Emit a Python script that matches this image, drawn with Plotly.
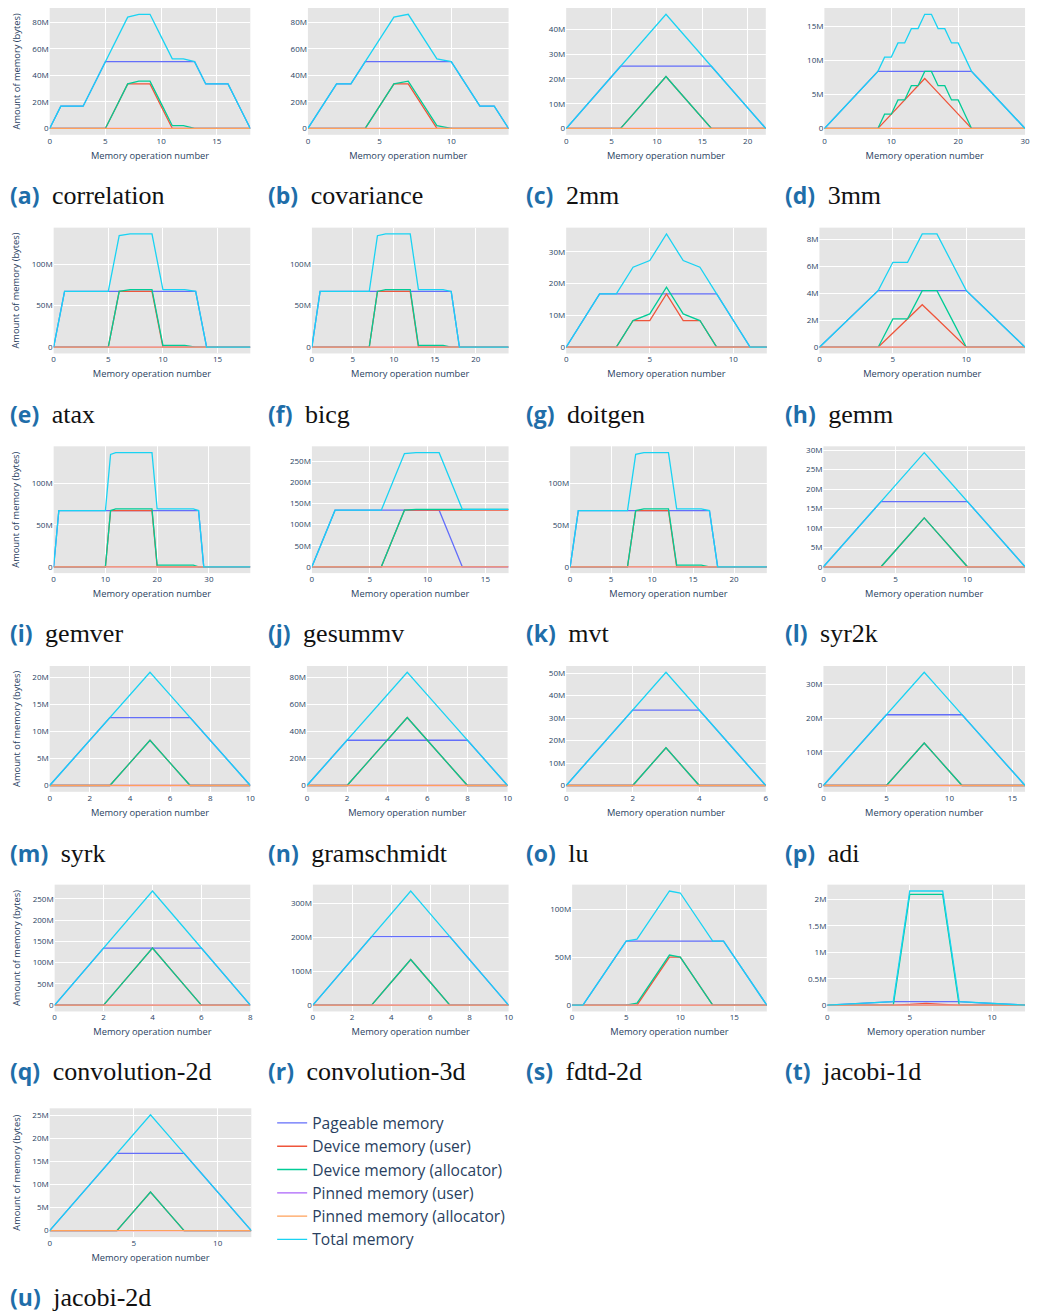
import plotly.graph_objects as go

# Memory usage per memory operation for each PolyBench kernel (values in MB = 1e6 bytes)
W, H = 1037, 1316

SERIES_NAMES = ["Pageable memory", "Device memory (user)", "Device memory (allocator)",
                "Pinned memory (user)", "Pinned memory (allocator)", "Total memory"]
SERIES_KEYS = ["pageable", "device_user", "device_alloc", "pinned_user", "pinned_alloc", "total"]
SERIES_COLORS = ["#636efa", "#EF553B", "#00cc96", "#ab63fa", "#FFA15A", "#19d3f3"]

correlation = dict(
    pageable=[0, 16.78, 16.78, 16.78, 33.55, 50.33, 50.33, 50.33, 50.33, 50.33, 50.33, 50.33, 50.33, 50.33, 33.55, 33.55, 33.55, 16.78, 0],
    device_user=[0, 0, 0, 0, 0, 0, 16.78, 33.55, 33.55, 33.55, 16.78, 0, 0, 0, 0, 0, 0, 0, 0],
    device_alloc=[0, 0, 0, 0, 0, 0, 16.78, 33.55, 35.65, 35.65, 18.87, 2.10, 2.10, 0, 0, 0, 0, 0, 0],
    pinned_user=[0, 0, 0, 0, 0, 0, 0, 0, 0, 0, 0, 0, 0, 0, 0, 0, 0, 0, 0],
    pinned_alloc=[0, 0, 0, 0, 0, 0, 0, 0, 0, 0, 0, 0, 0, 0, 0, 0, 0, 0, 0],
    total=[0, 16.78, 16.78, 16.78, 33.55, 50.33, 67.11, 83.89, 85.98, 85.98, 69.21, 52.43, 52.43, 50.33, 33.55, 33.55, 33.55, 16.78, 0],
)

covariance = dict(
    pageable=[0, 16.78, 33.55, 33.55, 50.33, 50.33, 50.33, 50.33, 50.33, 50.33, 50.33, 33.55, 16.78, 16.78, 0],
    device_user=[0, 0, 0, 0, 0, 16.78, 33.55, 33.55, 16.78, 0, 0, 0, 0, 0, 0],
    device_alloc=[0, 0, 0, 0, 0, 16.78, 33.55, 35.65, 18.87, 2.10, 0, 0, 0, 0, 0],
    pinned_user=[0, 0, 0, 0, 0, 0, 0, 0, 0, 0, 0, 0, 0, 0, 0],
    pinned_alloc=[0, 0, 0, 0, 0, 0, 0, 0, 0, 0, 0, 0, 0, 0, 0],
    total=[0, 16.78, 33.55, 33.55, 50.33, 67.11, 83.89, 85.98, 69.21, 52.43, 50.33, 33.55, 16.78, 16.78, 0],
)

mm2 = dict(
    pageable=[0, 4.19, 8.39, 12.58, 16.78, 20.97, 25.17, 25.17, 25.17, 25.17, 25.17, 25.17, 25.17, 25.17, 25.17, 25.17, 25.17, 20.97, 16.78, 12.58, 8.39, 4.19, 0],
    device_user=[0, 0, 0, 0, 0, 0, 0, 4.19, 8.39, 12.58, 16.78, 20.97, 16.78, 12.58, 8.39, 4.19, 0, 0, 0, 0, 0, 0, 0],
    device_alloc=[0, 0, 0, 0, 0, 0, 0, 4.19, 8.39, 12.58, 16.78, 20.97, 16.78, 12.58, 8.39, 4.19, 0, 0, 0, 0, 0, 0, 0],
    pinned_user=[0, 0, 0, 0, 0, 0, 0, 0, 0, 0, 0, 0, 0, 0, 0, 0, 0, 0, 0, 0, 0, 0, 0],
    pinned_alloc=[0, 0, 0, 0, 0, 0, 0, 0, 0, 0, 0, 0, 0, 0, 0, 0, 0, 0, 0, 0, 0, 0, 0],
    total=[0, 4.19, 8.39, 12.58, 16.78, 20.97, 25.17, 29.36, 33.55, 37.75, 41.94, 46.14, 41.94, 37.75, 33.55, 29.36, 25.17, 20.97, 16.78, 12.58, 8.39, 4.19, 0],
)

mm3 = dict(
    pageable=[0, 1.05, 2.10, 3.15, 4.19, 5.24, 6.29, 7.34, 8.39, 8.39, 8.39, 8.39, 8.39, 8.39, 8.39, 8.39, 8.39, 8.39, 8.39, 8.39, 8.39, 8.39, 8.39, 7.34, 6.29, 5.24, 4.19, 3.15, 2.10, 1.05, 0],
    device_user=[0, 0, 0, 0, 0, 0, 0, 0, 0, 1.05, 2.10, 3.15, 4.19, 5.24, 6.29, 7.34, 6.29, 5.24, 4.19, 3.15, 2.10, 1.05, 0, 0, 0, 0, 0, 0, 0, 0, 0],
    device_alloc=[0, 0, 0, 0, 0, 0, 0, 0, 0, 2.10, 2.10, 4.19, 4.19, 6.29, 6.29, 8.39, 8.39, 6.29, 6.29, 4.19, 4.19, 2.10, 0, 0, 0, 0, 0, 0, 0, 0, 0],
    pinned_user=[0, 0, 0, 0, 0, 0, 0, 0, 0, 0, 0, 0, 0, 0, 0, 0, 0, 0, 0, 0, 0, 0, 0, 0, 0, 0, 0, 0, 0, 0, 0],
    pinned_alloc=[0, 0, 0, 0, 0, 0, 0, 0, 0, 0, 0, 0, 0, 0, 0, 0, 0, 0, 0, 0, 0, 0, 0, 0, 0, 0, 0, 0, 0, 0, 0],
    total=[0, 1.05, 2.10, 3.15, 4.19, 5.24, 6.29, 7.34, 8.39, 10.49, 10.49, 12.58, 12.58, 14.68, 14.68, 16.78, 16.78, 14.68, 14.68, 12.58, 12.58, 10.49, 8.39, 7.34, 6.29, 5.24, 4.19, 3.15, 2.10, 1.05, 0],
)

atax = dict(
    pageable=[0, 67.11, 67.11, 67.11, 67.11, 67.11, 67.11, 67.11, 67.11, 67.11, 67.11, 67.11, 67.11, 67.11, 0, 0, 0, 0, 0],
    device_user=[0, 0, 0, 0, 0, 0, 67.11, 67.11, 67.11, 67.11, 0, 0, 0, 0, 0, 0, 0, 0, 0],
    device_alloc=[0, 0, 0, 0, 0, 0, 67.11, 69.21, 69.21, 69.21, 2.10, 2.10, 2.10, 0, 0, 0, 0, 0, 0],
    pinned_user=[0, 0, 0, 0, 0, 0, 0, 0, 0, 0, 0, 0, 0, 0, 0, 0, 0, 0, 0],
    pinned_alloc=[0, 0, 0, 0, 0, 0, 0, 0, 0, 0, 0, 0, 0, 0, 0, 0, 0, 0, 0],
    total=[0, 67.11, 67.11, 67.11, 67.11, 67.11, 134.22, 136.31, 136.31, 136.31, 69.21, 69.21, 69.21, 67.11, 0, 0, 0, 0, 0],
)

bicg = dict(
    pageable=[0, 67.11, 67.11, 67.11, 67.11, 67.11, 67.11, 67.11, 67.11, 67.11, 67.11, 67.11, 67.11, 67.11, 67.11, 67.11, 67.11, 67.11, 0, 0, 0, 0, 0, 0, 0],
    device_user=[0, 0, 0, 0, 0, 0, 0, 0, 67.11, 67.11, 67.11, 67.11, 67.11, 0, 0, 0, 0, 0, 0, 0, 0, 0, 0, 0, 0],
    device_alloc=[0, 0, 0, 0, 0, 0, 0, 0, 67.11, 69.21, 69.21, 69.21, 69.21, 2.10, 2.10, 2.10, 2.10, 0, 0, 0, 0, 0, 0, 0, 0],
    pinned_user=[0, 0, 0, 0, 0, 0, 0, 0, 0, 0, 0, 0, 0, 0, 0, 0, 0, 0, 0, 0, 0, 0, 0, 0, 0],
    pinned_alloc=[0, 0, 0, 0, 0, 0, 0, 0, 0, 0, 0, 0, 0, 0, 0, 0, 0, 0, 0, 0, 0, 0, 0, 0, 0],
    total=[0, 67.11, 67.11, 67.11, 67.11, 67.11, 67.11, 67.11, 134.22, 136.31, 136.31, 136.31, 136.31, 69.21, 69.21, 69.21, 69.21, 67.11, 0, 0, 0, 0, 0, 0, 0],
)

doitgen = dict(
    pageable=[0, 8.39, 16.78, 16.78, 16.78, 16.78, 16.78, 16.78, 16.78, 16.78, 8.39, 0, 0],
    device_user=[0, 0, 0, 0, 8.39, 8.39, 16.78, 8.39, 8.39, 0, 0, 0, 0],
    device_alloc=[0, 0, 0, 0, 8.39, 10.49, 18.87, 10.49, 8.39, 0, 0, 0, 0],
    pinned_user=[0, 0, 0, 0, 0, 0, 0, 0, 0, 0, 0, 0, 0],
    pinned_alloc=[0, 0, 0, 0, 0, 0, 0, 0, 0, 0, 0, 0, 0],
    total=[0, 8.39, 16.78, 16.78, 25.17, 27.26, 35.65, 27.26, 25.17, 16.78, 8.39, 0, 0],
)

gemm = dict(
    pageable=[0, 1.05, 2.10, 3.15, 4.19, 4.19, 4.19, 4.19, 4.19, 4.19, 4.19, 3.15, 2.10, 1.05, 0],
    device_user=[0, 0, 0, 0, 0, 1.05, 2.10, 3.15, 2.10, 1.05, 0, 0, 0, 0, 0],
    device_alloc=[0, 0, 0, 0, 0, 2.10, 2.10, 4.19, 4.19, 2.10, 0, 0, 0, 0, 0],
    pinned_user=[0, 0, 0, 0, 0, 0, 0, 0, 0, 0, 0, 0, 0, 0, 0],
    pinned_alloc=[0, 0, 0, 0, 0, 0, 0, 0, 0, 0, 0, 0, 0, 0, 0],
    total=[0, 1.05, 2.10, 3.15, 4.19, 6.29, 6.29, 8.39, 8.39, 6.29, 4.19, 3.15, 2.10, 1.05, 0],
)

gemver = dict(
    pageable=[0, 67.11, 67.11, 67.11, 67.11, 67.11, 67.11, 67.11, 67.11, 67.11, 67.11, 67.11, 67.11, 67.11, 67.11, 67.11, 67.11, 67.11, 67.11, 67.11, 67.11, 67.11, 67.11, 67.11, 67.11, 67.11, 67.11, 67.11, 67.11, 0, 0, 0, 0, 0, 0, 0, 0, 0, 0],
    device_user=[0, 0, 0, 0, 0, 0, 0, 0, 0, 0, 0, 67.11, 67.11, 67.11, 67.11, 67.11, 67.11, 67.11, 67.11, 67.11, 0, 0, 0, 0, 0, 0, 0, 0, 0, 0, 0, 0, 0, 0, 0, 0, 0, 0, 0],
    device_alloc=[0, 0, 0, 0, 0, 0, 0, 0, 0, 0, 0, 67.11, 69.21, 69.21, 69.21, 69.21, 69.21, 69.21, 69.21, 69.21, 2.10, 2.10, 2.10, 2.10, 2.10, 2.10, 2.10, 2.10, 0, 0, 0, 0, 0, 0, 0, 0, 0, 0, 0],
    pinned_user=[0, 0, 0, 0, 0, 0, 0, 0, 0, 0, 0, 0, 0, 0, 0, 0, 0, 0, 0, 0, 0, 0, 0, 0, 0, 0, 0, 0, 0, 0, 0, 0, 0, 0, 0, 0, 0, 0, 0],
    pinned_alloc=[0, 0, 0, 0, 0, 0, 0, 0, 0, 0, 0, 0, 0, 0, 0, 0, 0, 0, 0, 0, 0, 0, 0, 0, 0, 0, 0, 0, 0, 0, 0, 0, 0, 0, 0, 0, 0, 0, 0],
    total=[0, 67.11, 67.11, 67.11, 67.11, 67.11, 67.11, 67.11, 67.11, 67.11, 67.11, 134.22, 136.31, 136.31, 136.31, 136.31, 136.31, 136.31, 136.31, 136.31, 69.21, 69.21, 69.21, 69.21, 69.21, 69.21, 69.21, 69.21, 67.11, 0, 0, 0, 0, 0, 0, 0, 0, 0, 0],
)

gesummv = dict(
    pageable=[0, 67.11, 134.22, 134.22, 134.22, 134.22, 134.22, 134.22, 134.22, 134.22, 134.22, 134.22, 67.11, 0, 0, 0, 0, 0],
    device_user=[0, 0, 0, 0, 0, 0, 0, 67.11, 134.22, 134.22, 134.22, 134.22, 134.22, 134.22, 134.22, 134.22, 134.22, 134.22],
    device_alloc=[0, 0, 0, 0, 0, 0, 0, 67.11, 134.22, 136.31, 136.31, 136.31, 136.31, 136.31, 136.31, 136.31, 136.31, 136.31],
    pinned_user=[0, 0, 0, 0, 0, 0, 0, 0, 0, 0, 0, 0, 0, 0, 0, 0, 0, 0],
    pinned_alloc=[0, 0, 0, 0, 0, 0, 0, 0, 0, 0, 0, 0, 0, 0, 0, 0, 0, 0],
    total=[0, 67.11, 134.22, 134.22, 134.22, 134.22, 134.22, 201.33, 268.44, 270.53, 270.53, 270.53, 203.42, 136.31, 136.31, 136.31, 136.31, 136.31],
)

mvt = dict(
    pageable=[0, 67.11, 67.11, 67.11, 67.11, 67.11, 67.11, 67.11, 67.11, 67.11, 67.11, 67.11, 67.11, 67.11, 67.11, 67.11, 67.11, 67.11, 0, 0, 0, 0, 0, 0, 0],
    device_user=[0, 0, 0, 0, 0, 0, 0, 0, 67.11, 67.11, 67.11, 67.11, 67.11, 0, 0, 0, 0, 0, 0, 0, 0, 0, 0, 0, 0],
    device_alloc=[0, 0, 0, 0, 0, 0, 0, 0, 67.11, 69.21, 69.21, 69.21, 69.21, 2.10, 2.10, 2.10, 2.10, 0, 0, 0, 0, 0, 0, 0, 0],
    pinned_user=[0, 0, 0, 0, 0, 0, 0, 0, 0, 0, 0, 0, 0, 0, 0, 0, 0, 0, 0, 0, 0, 0, 0, 0, 0],
    pinned_alloc=[0, 0, 0, 0, 0, 0, 0, 0, 0, 0, 0, 0, 0, 0, 0, 0, 0, 0, 0, 0, 0, 0, 0, 0, 0],
    total=[0, 67.11, 67.11, 67.11, 67.11, 67.11, 67.11, 67.11, 134.22, 136.31, 136.31, 136.31, 136.31, 69.21, 69.21, 69.21, 69.21, 67.11, 0, 0, 0, 0, 0, 0, 0],
)

syr2k = dict(
    pageable=[0, 4.19, 8.39, 12.58, 16.78, 16.78, 16.78, 16.78, 16.78, 16.78, 16.78, 12.58, 8.39, 4.19, 0],
    device_user=[0, 0, 0, 0, 0, 4.19, 8.39, 12.58, 8.39, 4.19, 0, 0, 0, 0, 0],
    device_alloc=[0, 0, 0, 0, 0, 4.19, 8.39, 12.58, 8.39, 4.19, 0, 0, 0, 0, 0],
    pinned_user=[0, 0, 0, 0, 0, 0, 0, 0, 0, 0, 0, 0, 0, 0, 0],
    pinned_alloc=[0, 0, 0, 0, 0, 0, 0, 0, 0, 0, 0, 0, 0, 0, 0],
    total=[0, 4.19, 8.39, 12.58, 16.78, 20.97, 25.17, 29.36, 25.17, 20.97, 16.78, 12.58, 8.39, 4.19, 0],
)

syrk = dict(
    pageable=[0, 4.19, 8.39, 12.58, 12.58, 12.58, 12.58, 12.58, 8.39, 4.19, 0],
    device_user=[0, 0, 0, 0, 4.19, 8.39, 4.19, 0, 0, 0, 0],
    device_alloc=[0, 0, 0, 0, 4.19, 8.39, 4.19, 0, 0, 0, 0],
    pinned_user=[0, 0, 0, 0, 0, 0, 0, 0, 0, 0, 0],
    pinned_alloc=[0, 0, 0, 0, 0, 0, 0, 0, 0, 0, 0],
    total=[0, 4.19, 8.39, 12.58, 16.78, 20.97, 16.78, 12.58, 8.39, 4.19, 0],
)

gramschmidt = dict(
    pageable=[0, 16.78, 33.55, 33.55, 33.55, 33.55, 33.55, 33.55, 33.55, 16.78, 0],
    device_user=[0, 0, 0, 16.78, 33.55, 50.33, 33.55, 16.78, 0, 0, 0],
    device_alloc=[0, 0, 0, 16.78, 33.55, 50.33, 33.55, 16.78, 0, 0, 0],
    pinned_user=[0, 0, 0, 0, 0, 0, 0, 0, 0, 0, 0],
    pinned_alloc=[0, 0, 0, 0, 0, 0, 0, 0, 0, 0, 0],
    total=[0, 16.78, 33.55, 50.33, 67.11, 83.89, 67.11, 50.33, 33.55, 16.78, 0],
)

lu = dict(
    pageable=[0, 16.78, 33.55, 33.55, 33.55, 16.78, 0],
    device_user=[0, 0, 0, 16.78, 0, 0, 0],
    device_alloc=[0, 0, 0, 16.78, 0, 0, 0],
    pinned_user=[0, 0, 0, 0, 0, 0, 0],
    pinned_alloc=[0, 0, 0, 0, 0, 0, 0],
    total=[0, 16.78, 33.55, 50.33, 33.55, 16.78, 0],
)

adi = dict(
    pageable=[0, 4.19, 8.39, 12.58, 16.78, 20.97, 20.97, 20.97, 20.97, 20.97, 20.97, 20.97, 16.78, 12.58, 8.39, 4.19, 0],
    device_user=[0, 0, 0, 0, 0, 0, 4.19, 8.39, 12.58, 8.39, 4.19, 0, 0, 0, 0, 0, 0],
    device_alloc=[0, 0, 0, 0, 0, 0, 4.19, 8.39, 12.58, 8.39, 4.19, 0, 0, 0, 0, 0, 0],
    pinned_user=[0, 0, 0, 0, 0, 0, 0, 0, 0, 0, 0, 0, 0, 0, 0, 0, 0],
    pinned_alloc=[0, 0, 0, 0, 0, 0, 0, 0, 0, 0, 0, 0, 0, 0, 0, 0, 0],
    total=[0, 4.19, 8.39, 12.58, 16.78, 20.97, 25.17, 29.36, 33.55, 29.36, 25.17, 20.97, 16.78, 12.58, 8.39, 4.19, 0],
)

convolution_2d = dict(
    pageable=[0, 67.11, 134.22, 134.22, 134.22, 134.22, 134.22, 67.11, 0],
    device_user=[0, 0, 0, 67.11, 134.22, 67.11, 0, 0, 0],
    device_alloc=[0, 0, 0, 67.11, 134.22, 67.11, 0, 0, 0],
    pinned_user=[0, 0, 0, 0, 0, 0, 0, 0, 0],
    pinned_alloc=[0, 0, 0, 0, 0, 0, 0, 0, 0],
    total=[0, 67.11, 134.22, 201.33, 268.44, 201.33, 134.22, 67.11, 0],
)

convolution_3d = dict(
    pageable=[0, 67.11, 134.22, 201.33, 201.33, 201.33, 201.33, 201.33, 134.22, 67.11, 0],
    device_user=[0, 0, 0, 0, 67.11, 134.22, 67.11, 0, 0, 0, 0],
    device_alloc=[0, 0, 0, 0, 67.11, 134.22, 67.11, 0, 0, 0, 0],
    pinned_user=[0, 0, 0, 0, 0, 0, 0, 0, 0, 0, 0],
    pinned_alloc=[0, 0, 0, 0, 0, 0, 0, 0, 0, 0, 0],
    total=[0, 67.11, 134.22, 201.33, 268.44, 335.54, 268.44, 201.33, 134.22, 67.11, 0],
)

fdtd_2d = dict(
    pageable=[0, 0, 16.78, 33.55, 50.33, 67.11, 67.11, 67.11, 67.11, 67.11, 67.11, 67.11, 67.11, 67.11, 67.11, 50.33, 33.55, 16.78, 0],
    device_user=[0, 0, 0, 0, 0, 0, 0, 16.78, 33.55, 50.33, 50.33, 33.55, 16.78, 0, 0, 0, 0, 0, 0],
    device_alloc=[0, 0, 0, 0, 0, 0, 2.10, 18.87, 35.65, 52.43, 50.33, 33.55, 16.78, 0, 0, 0, 0, 0, 0],
    pinned_user=[0, 0, 0, 0, 0, 0, 0, 0, 0, 0, 0, 0, 0, 0, 0, 0, 0, 0, 0],
    pinned_alloc=[0, 0, 0, 0, 0, 0, 0, 0, 0, 0, 0, 0, 0, 0, 0, 0, 0, 0, 0],
    total=[0, 0, 16.78, 33.55, 50.33, 67.11, 69.21, 85.98, 102.76, 119.54, 117.44, 100.66, 83.89, 67.11, 67.11, 50.33, 33.55, 16.78, 0],
)

jacobi_1d = dict(
    pageable=[0, 0.016, 0.033, 0.049, 0.066, 0.066, 0.066, 0.066, 0.066, 0.049, 0.033, 0.016, 0],
    device_user=[0, 0, 0, 0, 0, 0.016, 0.033, 0.016, 0, 0, 0, 0, 0],
    device_alloc=[0, 0, 0, 0, 0, 2.10, 2.10, 2.10, 0, 0, 0, 0, 0],
    pinned_user=[0, 0, 0, 0, 0, 0, 0, 0, 0, 0, 0, 0, 0],
    pinned_alloc=[0, 0, 0, 0, 0, 0, 0, 0, 0, 0, 0, 0, 0],
    total=[0, 0.016, 0.033, 0.049, 0.066, 2.163, 2.163, 2.163, 0.066, 0.049, 0.033, 0.016, 0],
)

jacobi_2d = dict(
    pageable=[0, 4.19, 8.39, 12.58, 16.78, 16.78, 16.78, 16.78, 16.78, 12.58, 8.39, 4.19, 0],
    device_user=[0, 0, 0, 0, 0, 4.19, 8.39, 4.19, 0, 0, 0, 0, 0],
    device_alloc=[0, 0, 0, 0, 0, 4.19, 8.39, 4.19, 0, 0, 0, 0, 0],
    pinned_user=[0, 0, 0, 0, 0, 0, 0, 0, 0, 0, 0, 0, 0],
    pinned_alloc=[0, 0, 0, 0, 0, 0, 0, 0, 0, 0, 0, 0, 0],
    total=[0, 4.19, 8.39, 12.58, 16.78, 20.97, 25.17, 20.97, 16.78, 12.58, 8.39, 4.19, 0],
)

# (letter, kernel name, data, x tick step, y tick step in MB)
PANELS = [
    ("a", "correlation", correlation, 5, 20), ("b", "covariance", covariance, 5, 20),
    ("c", "2mm", mm2, 5, 10), ("d", "3mm", mm3, 10, 5),
    ("e", "atax", atax, 5, 50), ("f", "bicg", bicg, 5, 50),
    ("g", "doitgen", doitgen, 5, 10), ("h", "gemm", gemm, 5, 2),
    ("i", "gemver", gemver, 10, 50), ("j", "gesummv", gesummv, 5, 50),
    ("k", "mvt", mvt, 5, 50), ("l", "syr2k", syr2k, 5, 5),
    ("m", "syrk", syrk, 2, 5), ("n", "gramschmidt", gramschmidt, 2, 20),
    ("o", "lu", lu, 2, 10), ("p", "adi", adi, 5, 10),
    ("q", "convolution-2d", convolution_2d, 2, 50), ("r", "convolution-3d", convolution_3d, 2, 100),
    ("s", "fdtd-2d", fdtd_2d, 5, 50), ("t", "jacobi-1d", jacobi_1d, 5, 0.5),
    ("u", "jacobi-2d", jacobi_2d, 5, 5),
]

# Pixel placement of each plotting area (left, right) and of each row (top, bottom)
PANEL_X = [
    (48, 250), (308, 510), (568, 769), (828, 1030),
    (52, 250), (312, 510), (568, 770), (823, 1030),
    (52, 250), (312, 510), (572, 770), (827, 1030),
    (48, 250), (307, 509), (568, 769), (827, 1030),
    (53, 250), (313, 510), (574, 770), (831, 1030),
    (48, 251),
]
ROW_Y = [(6, 133), (226, 352), (445, 572), (665, 791), (884, 1011), (1108, 1237)]
CAPTION_Y = [193, 413, 632, 852, 1071, 1297]
COL_LEFT = [0, 260, 520, 780]

fig = go.Figure()
layout = dict(
    width=W, height=H,
    margin=dict(l=0, r=0, t=0, b=0),
    paper_bgcolor="white",
    plot_bgcolor="#e5e5e5",
    font=dict(family='"Open Sans", verdana, arial, sans-serif', color="#2a3f5f"),
    showlegend=True,
    legend=dict(
        x=272 / W, y=1 - 1106 / H, xanchor="left", yanchor="top",
        font=dict(size=15.6, color="#2a3f5f"), bgcolor="rgba(0,0,0,0)",
        tracegroupgap=0,
    ),
    annotations=[],
)

for i, (letter, name, data, xdt, ydt) in enumerate(PANELS, start=1):
    row, col = divmod(i - 1, 4)
    x0, x1 = PANEL_X[i - 1]
    y0, y1 = ROW_Y[row]
    sfx = "" if i == 1 else str(i)
    n = len(data["total"])
    ops = list(range(n))
    for k, key in enumerate(SERIES_KEYS):
        fig.add_trace(go.Scatter(
            x=ops, y=[v * 1e6 for v in data[key]],
            mode="lines", name=SERIES_NAMES[k],
            line=dict(color=SERIES_COLORS[k], width=1.3),
            legendgroup=SERIES_NAMES[k], showlegend=(i == 1),
            xaxis="x" + sfx, yaxis="y" + sfx,
        ))
    layout["xaxis" + sfx] = dict(
        domain=[x0 / W, x1 / W], anchor="y" + sfx,
        dtick=xdt, tick0=0, gridcolor="white", zeroline=False, showline=False,
        tickfont=dict(size=8),
        title=dict(text="Memory operation number", font=dict(size=9.3), standoff=7),
    )
    yaxis = dict(
        domain=[1 - y1 / H, 1 - y0 / H], anchor="x" + sfx,
        dtick=ydt * 1e6, tick0=0, gridcolor="white", zeroline=True,
        zerolinecolor="white", showline=False,
        tickfont=dict(size=8),
    )
    if col == 0:
        yaxis["title"] = dict(text="Amount of memory (bytes)", font=dict(size=9.3), standoff=10)
    layout["yaxis" + sfx] = yaxis

    layout["annotations"].append(dict(
        xref="paper", yref="paper",
        x=(COL_LEFT[col] + 6) / W, y=1 - CAPTION_Y[row] / H,
        xanchor="left", yanchor="middle", showarrow=False,
        text=(f'<span style="font-family:Open Sans;font-weight:bold;font-size:23px;color:#1f6ea9">({letter})&nbsp;</span>'
              f'<span style="font-family:Liberation Serif;color:#111111">&nbsp;{name}</span>'),
        font=dict(size=26),
    ))

fig.update_layout(**layout)
fig.write_html("out.html")
